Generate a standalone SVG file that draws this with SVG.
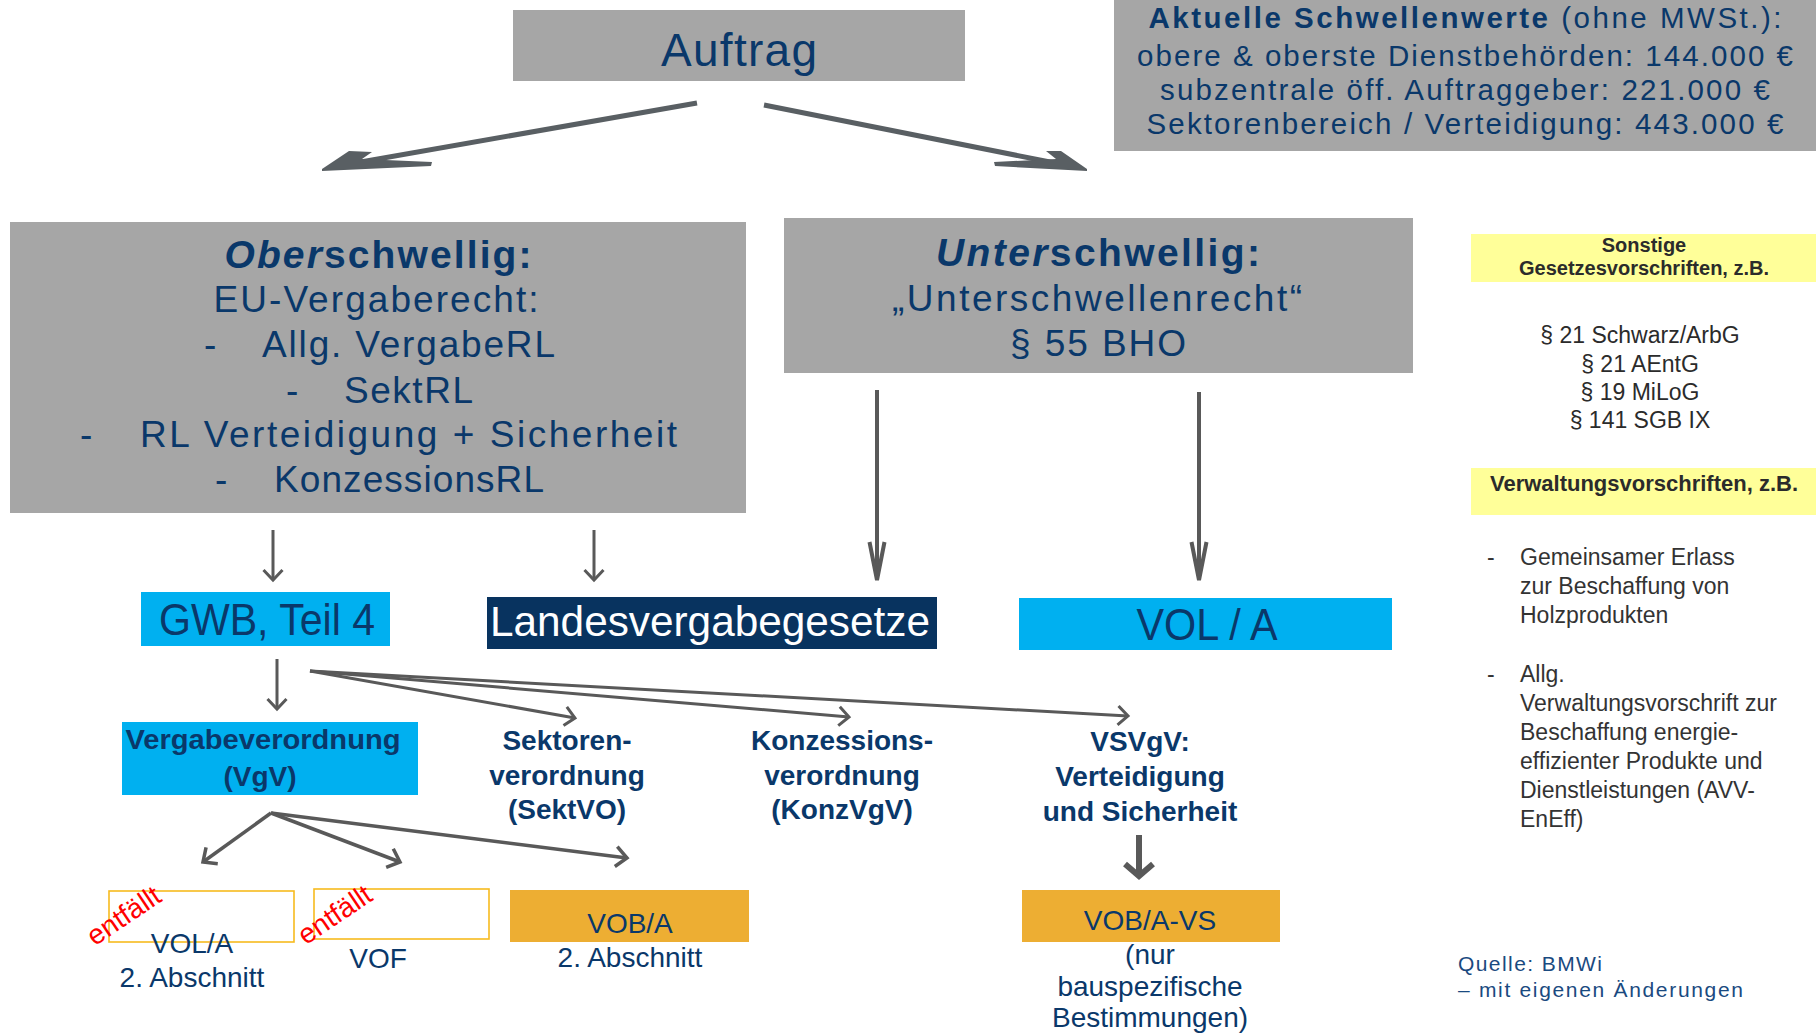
<svg xmlns="http://www.w3.org/2000/svg" width="1816" height="1035" viewBox="0 0 1816 1035">
<defs>
<style>
text{font-family:"Liberation Sans",Arial,sans-serif;}
.blue{fill:#0a386a;}
.graybox{fill:#a6a6a6;}
.cyan{fill:#00b0f0;}
.gold{fill:#edae33;}
.yel{fill:#ffff99;}
.outl{fill:none;stroke:#f7bb1f;stroke-width:1.6;}
.dark{fill:#2b2b2b;}
.red{fill:#ff0000;}
.conn{stroke:#595959;fill:none;}
.big{fill:#595f63;}
</style>
<marker id="chev" markerUnits="userSpaceOnUse" viewBox="-14 -12 16 24" refX="0" refY="0" markerWidth="16" markerHeight="24" orient="auto" overflow="visible">
<path d="M-10,-9.5 L0,0 L-10,9.5" fill="none" stroke="#595959" stroke-width="3"/>
</marker>
<marker id="chev2" markerUnits="userSpaceOnUse" viewBox="-14 -12 16 24" refX="0" refY="0" markerWidth="16" markerHeight="24" orient="auto" overflow="visible">
<path d="M-11,-10 L0,0 L-11,10" fill="none" stroke="#595959" stroke-width="3.5"/>
</marker>
<marker id="narrow" markerUnits="userSpaceOnUse" viewBox="-42 -10 44 20" refX="0" refY="0" markerWidth="44" markerHeight="20" orient="auto" overflow="visible">
<path d="M-38,-7.5 L0,0 L-38,7.5" fill="none" stroke="#595959" stroke-width="4"/>
</marker>
<marker id="thick" markerUnits="userSpaceOnUse" viewBox="-18 -18 20 36" refX="0" refY="0" markerWidth="20" markerHeight="36" orient="auto" overflow="visible">
<path d="M-12,-14 L0,0 L-12,14" fill="none" stroke="#595959" stroke-width="6"/>
</marker>
</defs>
<rect x="0" y="0" width="1816" height="1035" fill="#ffffff"/>

<g id="connectors">
<line x1="697" y1="103" x2="355" y2="163" stroke="#595f63" stroke-width="5"/>
<polygon class="big" points="322,169 349,151 372,152 362,159 432,162 431,166 322,171"/>
<line x1="764" y1="105" x2="1055" y2="163" stroke="#595f63" stroke-width="5"/>
<polygon class="big" points="1087,169 1061,151 1046,151 1056,159 994,162 995,166 1087,171"/>
<line class="conn" x1="273" y1="530" x2="273" y2="580" stroke-width="3" marker-end="url(#chev)"/>
<line class="conn" x1="594" y1="530" x2="594" y2="580" stroke-width="3" marker-end="url(#chev)"/>
<line class="conn" x1="877" y1="390" x2="877" y2="580" stroke-width="4" marker-end="url(#narrow)"/>
<line class="conn" x1="1199" y1="392" x2="1199" y2="580" stroke-width="4" marker-end="url(#narrow)"/>
<line class="conn" x1="277" y1="659" x2="277" y2="709" stroke-width="3" marker-end="url(#chev)"/>
<line class="conn" x1="310" y1="671" x2="575" y2="718" stroke-width="3" marker-end="url(#chev)"/>
<line class="conn" x1="310" y1="671" x2="849" y2="717" stroke-width="3" marker-end="url(#chev)"/>
<line class="conn" x1="310" y1="671" x2="1128" y2="716" stroke-width="3" marker-end="url(#chev)"/>
<line class="conn" x1="271" y1="813" x2="203" y2="862" stroke-width="3.5" marker-end="url(#chev2)"/>
<line class="conn" x1="271" y1="813" x2="400" y2="862" stroke-width="3.5" marker-end="url(#chev2)"/>
<line class="conn" x1="271" y1="813" x2="627" y2="858" stroke-width="3.5" marker-end="url(#chev2)"/>
<line class="conn" x1="1139" y1="835" x2="1139" y2="876" stroke-width="6" marker-end="url(#thick)"/>
</g>

<g id="auftrag">
<rect class="graybox" x="513" y="10" width="452" height="71"/>
<text class="blue" x="739" y="66" text-anchor="middle" font-size="46" textLength="156" lengthAdjust="spacing">Auftrag</text>
</g>

<g id="schwellenwerte">
<rect class="graybox" x="1114" y="0" width="702" height="151"/>
<text class="blue" x="1465" y="28" text-anchor="middle" font-size="29.5" textLength="633" lengthAdjust="spacing"><tspan font-weight="bold">Aktuelle Schwellenwerte</tspan> (ohne MWSt.):</text>
<text class="blue" x="1465" y="66" text-anchor="middle" font-size="29.5" textLength="656" lengthAdjust="spacing">obere &amp; oberste Dienstbehörden:  144.000 €</text>
<text class="blue" x="1465" y="100" text-anchor="middle" font-size="29.5" textLength="610" lengthAdjust="spacing">subzentrale öff. Auftraggeber:  221.000 €</text>
<text class="blue" x="1465" y="134" text-anchor="middle" font-size="29.5" textLength="637" lengthAdjust="spacing">Sektorenbereich / Verteidigung:  443.000 €</text>
</g>

<g id="oberschwellig">
<rect class="graybox" x="10" y="222" width="736" height="291"/>
<text class="blue" x="378" y="268" text-anchor="middle" font-size="39" font-weight="bold" textLength="307" lengthAdjust="spacing"><tspan font-style="italic">Ober</tspan>schwellig:</text>
<text class="blue" x="376" y="312" text-anchor="middle" font-size="37" textLength="325" lengthAdjust="spacing">EU-Vergaberecht:</text>
<text class="blue" x="204" y="357" font-size="37">-</text>
<text class="blue" x="262" y="357" font-size="37" textLength="293" lengthAdjust="spacing">Allg. VergabeRL</text>
<text class="blue" x="286" y="403" font-size="37">-</text>
<text class="blue" x="344" y="403" font-size="37" textLength="129" lengthAdjust="spacing">SektRL</text>
<text class="blue" x="80" y="447" font-size="37">-</text>
<text class="blue" x="140" y="447" font-size="37" textLength="537" lengthAdjust="spacing">RL Verteidigung + Sicherheit</text>
<text class="blue" x="215" y="492" font-size="37">-</text>
<text class="blue" x="274" y="492" font-size="37" textLength="270" lengthAdjust="spacing">KonzessionsRL</text>
</g>

<g id="unterschwellig">
<rect class="graybox" x="784" y="218" width="629" height="155"/>
<text class="blue" x="1098" y="266" text-anchor="middle" font-size="39" font-weight="bold" textLength="324" lengthAdjust="spacing"><tspan font-style="italic">Unter</tspan>schwellig:</text>
<text class="blue" x="1097" y="311" text-anchor="middle" font-size="37" textLength="410" lengthAdjust="spacing">„Unterschwellenrecht“</text>
<text class="blue" x="1098" y="356" text-anchor="middle" font-size="37" textLength="176" lengthAdjust="spacing">§ 55 BHO</text>
</g>

<g id="sonstige">
<rect class="yel" x="1471" y="234" width="345" height="48"/>
<text class="dark" x="1644" y="252" text-anchor="middle" font-size="20" font-weight="bold">Sonstige</text>
<text class="dark" x="1644" y="275" text-anchor="middle" font-size="20" font-weight="bold">Gesetzesvorschriften, z.B.</text>
</g>

<g id="gesetze">
<text class="dark" x="1640" y="343" text-anchor="middle" font-size="23">§ 21 Schwarz/ArbG</text>
<text class="dark" x="1640" y="372" text-anchor="middle" font-size="23">§ 21 AEntG</text>
<text class="dark" x="1640" y="400" text-anchor="middle" font-size="23">§ 19 MiLoG</text>
<text class="dark" x="1640" y="428" text-anchor="middle" font-size="23">§ 141 SGB IX</text>
</g>

<g id="verwaltung">
<rect class="yel" x="1471" y="468" width="345" height="47"/>
<text class="dark" x="1644" y="491" text-anchor="middle" font-size="22" font-weight="bold">Verwaltungsvorschriften, z.B.</text>
</g>

<g id="verwaltung-liste" font-size="23">
<text fill="#333333" x="1487" y="565">-</text>
<text fill="#333333" x="1520" y="565">Gemeinsamer Erlass</text>
<text fill="#333333" x="1520" y="594">zur Beschaffung von</text>
<text fill="#333333" x="1520" y="623">Holzprodukten</text>
<text fill="#333333" x="1487" y="682">-</text>
<text fill="#333333" x="1520" y="682">Allg.</text>
<text fill="#333333" x="1520" y="711">Verwaltungsvorschrift zur</text>
<text fill="#333333" x="1520" y="740">Beschaffung energie-</text>
<text fill="#333333" x="1520" y="769">effizienter Produkte und</text>
<text fill="#333333" x="1520" y="798">Dienstleistungen (AVV-</text>
<text fill="#333333" x="1520" y="827">EnEff)</text>
</g>

<g id="quelle">
<text fill="#1a4a80" x="1458" y="971" font-size="21" textLength="144" lengthAdjust="spacing">Quelle: BMWi</text>
<text fill="#1a4a80" x="1458" y="997" font-size="21" textLength="285" lengthAdjust="spacing">– mit eigenen Änderungen</text>
</g>

<g id="gwb">
<rect class="cyan" x="141" y="592" width="249" height="54"/>
<text class="blue" x="267" y="635" text-anchor="middle" font-size="44" textLength="216" lengthAdjust="spacingAndGlyphs">GWB, Teil 4</text>
</g>

<g id="landesvergabegesetze">
<rect fill="#08335f" x="487" y="597" width="450" height="52"/>
<text fill="#ffffff" x="710" y="636" text-anchor="middle" font-size="42" textLength="440" lengthAdjust="spacingAndGlyphs">Landesvergabegesetze</text>
</g>

<g id="vol-a">
<rect class="cyan" x="1019" y="598" width="373" height="52"/>
<text class="blue" x="1207" y="640" text-anchor="middle" font-size="44" textLength="141" lengthAdjust="spacingAndGlyphs">VOL / A</text>
</g>

<g id="vgv">
<rect class="cyan" x="122" y="722" width="296" height="73"/>
<text class="blue" x="263" y="749" text-anchor="middle" font-size="28" font-weight="bold" textLength="275" lengthAdjust="spacingAndGlyphs">Vergabeverordnung</text>
<text class="blue" x="260" y="786" text-anchor="middle" font-size="28" font-weight="bold">(VgV)</text>
</g>

<g id="sektvo" font-size="28" font-weight="bold">
<text class="blue" x="567" y="750" text-anchor="middle">Sektoren-</text>
<text class="blue" x="567" y="785" text-anchor="middle">verordnung</text>
<text class="blue" x="567" y="819" text-anchor="middle">(SektVO)</text>
</g>

<g id="konzvgv" font-size="28" font-weight="bold">
<text class="blue" x="842" y="750" text-anchor="middle">Konzessions-</text>
<text class="blue" x="842" y="785" text-anchor="middle">verordnung</text>
<text class="blue" x="842" y="819" text-anchor="middle">(KonzVgV)</text>
</g>

<g id="vsvgv" font-size="28" font-weight="bold">
<text class="blue" x="1140" y="751" text-anchor="middle">VSVgV:</text>
<text class="blue" x="1140" y="786" text-anchor="middle">Verteidigung</text>
<text class="blue" x="1140" y="821" text-anchor="middle">und Sicherheit</text>
</g>

<g id="vol-a-2">
<rect class="outl" x="109" y="891" width="185" height="51"/>
<text class="blue" x="192" y="953" text-anchor="middle" font-size="28">VOL/A</text>
<text class="blue" x="192" y="987" text-anchor="middle" font-size="28">2. Abschnitt</text>
<text class="red" transform="translate(124,916) rotate(-34)" x="0" y="9" text-anchor="middle" font-size="28">entfällt</text>
</g>

<g id="vof">
<rect class="outl" x="314" y="889" width="175" height="50"/>
<text class="blue" x="378" y="968" text-anchor="middle" font-size="28">VOF</text>
<text class="red" transform="translate(335,915) rotate(-34)" x="0" y="9" text-anchor="middle" font-size="28">entfällt</text>
</g>

<g id="vob-a">
<rect class="gold" x="510" y="890" width="239" height="52"/>
<text class="blue" x="630" y="933" text-anchor="middle" font-size="28">VOB/A</text>
<text class="blue" x="630" y="967" text-anchor="middle" font-size="28">2. Abschnitt</text>
</g>

<g id="vob-a-vs">
<rect class="gold" x="1022" y="890" width="258" height="52"/>
<text class="blue" x="1150" y="930" text-anchor="middle" font-size="28">VOB/A-VS</text>
<text class="blue" x="1150" y="964" text-anchor="middle" font-size="28">(nur</text>
<text class="blue" x="1150" y="996" text-anchor="middle" font-size="28">bauspezifische</text>
<text class="blue" x="1150" y="1027" text-anchor="middle" font-size="28">Bestimmungen)</text>
</g>
</svg>
